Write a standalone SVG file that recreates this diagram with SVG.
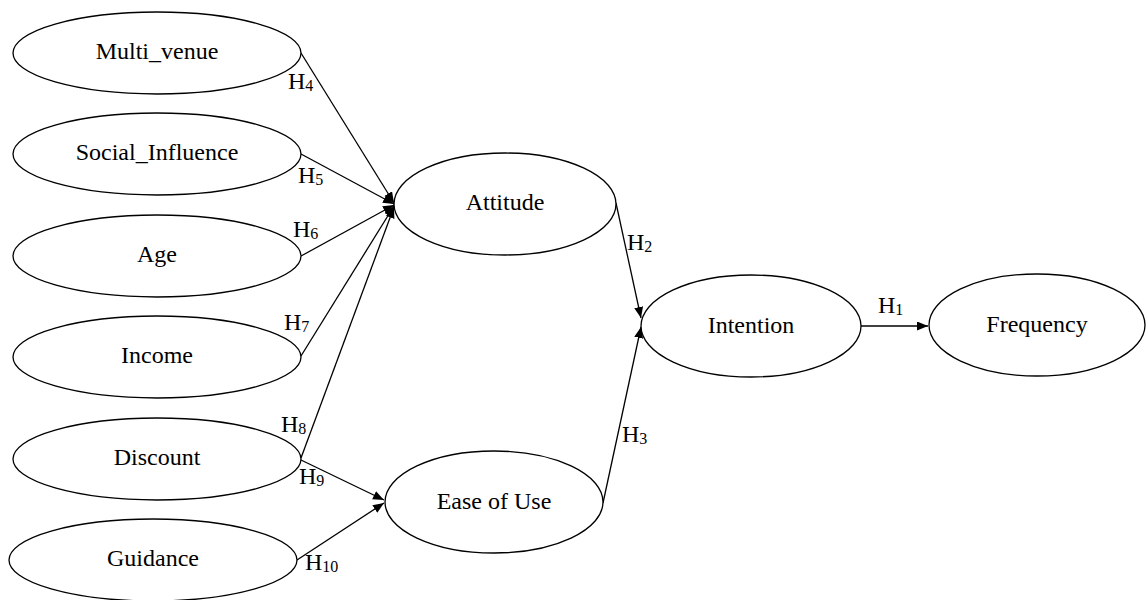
<svg xmlns="http://www.w3.org/2000/svg" width="1147" height="600" viewBox="0 0 1147 600" font-family="'Liberation Serif', 'Times New Roman', 'DejaVu Serif', serif">
<style>
.n ellipse{fill:#fff;stroke:#000;stroke-width:1.3}
.n text{font-size:24px;text-anchor:middle;fill:#000}
.e line{stroke:#000;stroke-width:1.3;marker-end:url(#ah)}
.l{font-size:24px;fill:#000}
.l tspan.s{font-size:16px}
</style>
<defs>
<marker id="ah" markerUnits="userSpaceOnUse" markerWidth="12" markerHeight="10" refX="11" refY="4.5" orient="auto">
<path d="M0,0 L11,4.5 L0,9 Z" fill="#000"/>
</marker>
</defs>
<rect width="1147" height="600" fill="#fff"/>
<g id="connectors" class="e">
<line x1="301" y1="53" x2="394" y2="203"/>
<line x1="301" y1="154" x2="394" y2="204"/>
<line x1="301" y1="256" x2="394" y2="205"/>
<line x1="301" y1="356" x2="394" y2="206"/>
<line x1="301" y1="458" x2="394" y2="207"/>
<line x1="301" y1="460" x2="384" y2="500"/>
<line x1="297" y1="560" x2="384" y2="503"/>
<line x1="616" y1="203" x2="641" y2="318"/>
<line x1="603" y1="503" x2="641" y2="327"/>
<line x1="860" y1="326" x2="928" y2="326"/>
</g>
<g id="labels">
<text class="l" x="288" y="89">H<tspan class="s" dy="2">4</tspan></text>
<text class="l" x="298" y="183">H<tspan class="s" dy="2">5</tspan></text>
<text class="l" x="293" y="237">H<tspan class="s" dy="2">6</tspan></text>
<text class="l" x="284" y="330">H<tspan class="s" dy="2">7</tspan></text>
<text class="l" x="281" y="432">H<tspan class="s" dy="2">8</tspan></text>
<text class="l" x="299" y="484">H<tspan class="s" dy="2">9</tspan></text>
<text class="l" x="305" y="570">H<tspan class="s" dy="2">10</tspan></text>
<text class="l" x="627" y="250">H<tspan class="s" dy="2">2</tspan></text>
<text class="l" x="622" y="442">H<tspan class="s" dy="2">3</tspan></text>
<text class="l" x="878" y="313">H<tspan class="s" dy="2">1</tspan></text>
</g>
<g id="multi_venue" class="n"><ellipse cx="157" cy="53" rx="144" ry="41"/><text x="157" y="59">Multi_venue</text></g>
<g id="social_influence" class="n"><ellipse cx="157" cy="154" rx="144" ry="41"/><text x="157" y="160">Social_Influence</text></g>
<g id="age" class="n"><ellipse cx="157" cy="256" rx="144" ry="41"/><text x="157" y="262">Age</text></g>
<g id="income" class="n"><ellipse cx="157" cy="357" rx="144" ry="41"/><text x="157" y="363">Income</text></g>
<g id="discount" class="n"><ellipse cx="157" cy="459" rx="144" ry="41"/><text x="157" y="465">Discount</text></g>
<g id="guidance" class="n"><ellipse cx="153" cy="560" rx="144" ry="41"/><text x="153" y="566">Guidance</text></g>
<g id="attitude" class="n"><ellipse cx="505" cy="204" rx="111" ry="51"/><text x="505" y="210">Attitude</text></g>
<g id="ease_of_use" class="n"><ellipse cx="494" cy="502" rx="109" ry="51"/><text x="494" y="509">Ease of Use</text></g>
<g id="intention" class="n"><ellipse cx="751" cy="326" rx="110" ry="51"/><text x="751" y="333">Intention</text></g>
<g id="frequency" class="n"><ellipse cx="1037" cy="325" rx="108" ry="51"/><text x="1037" y="332">Frequency</text></g>
</svg>
